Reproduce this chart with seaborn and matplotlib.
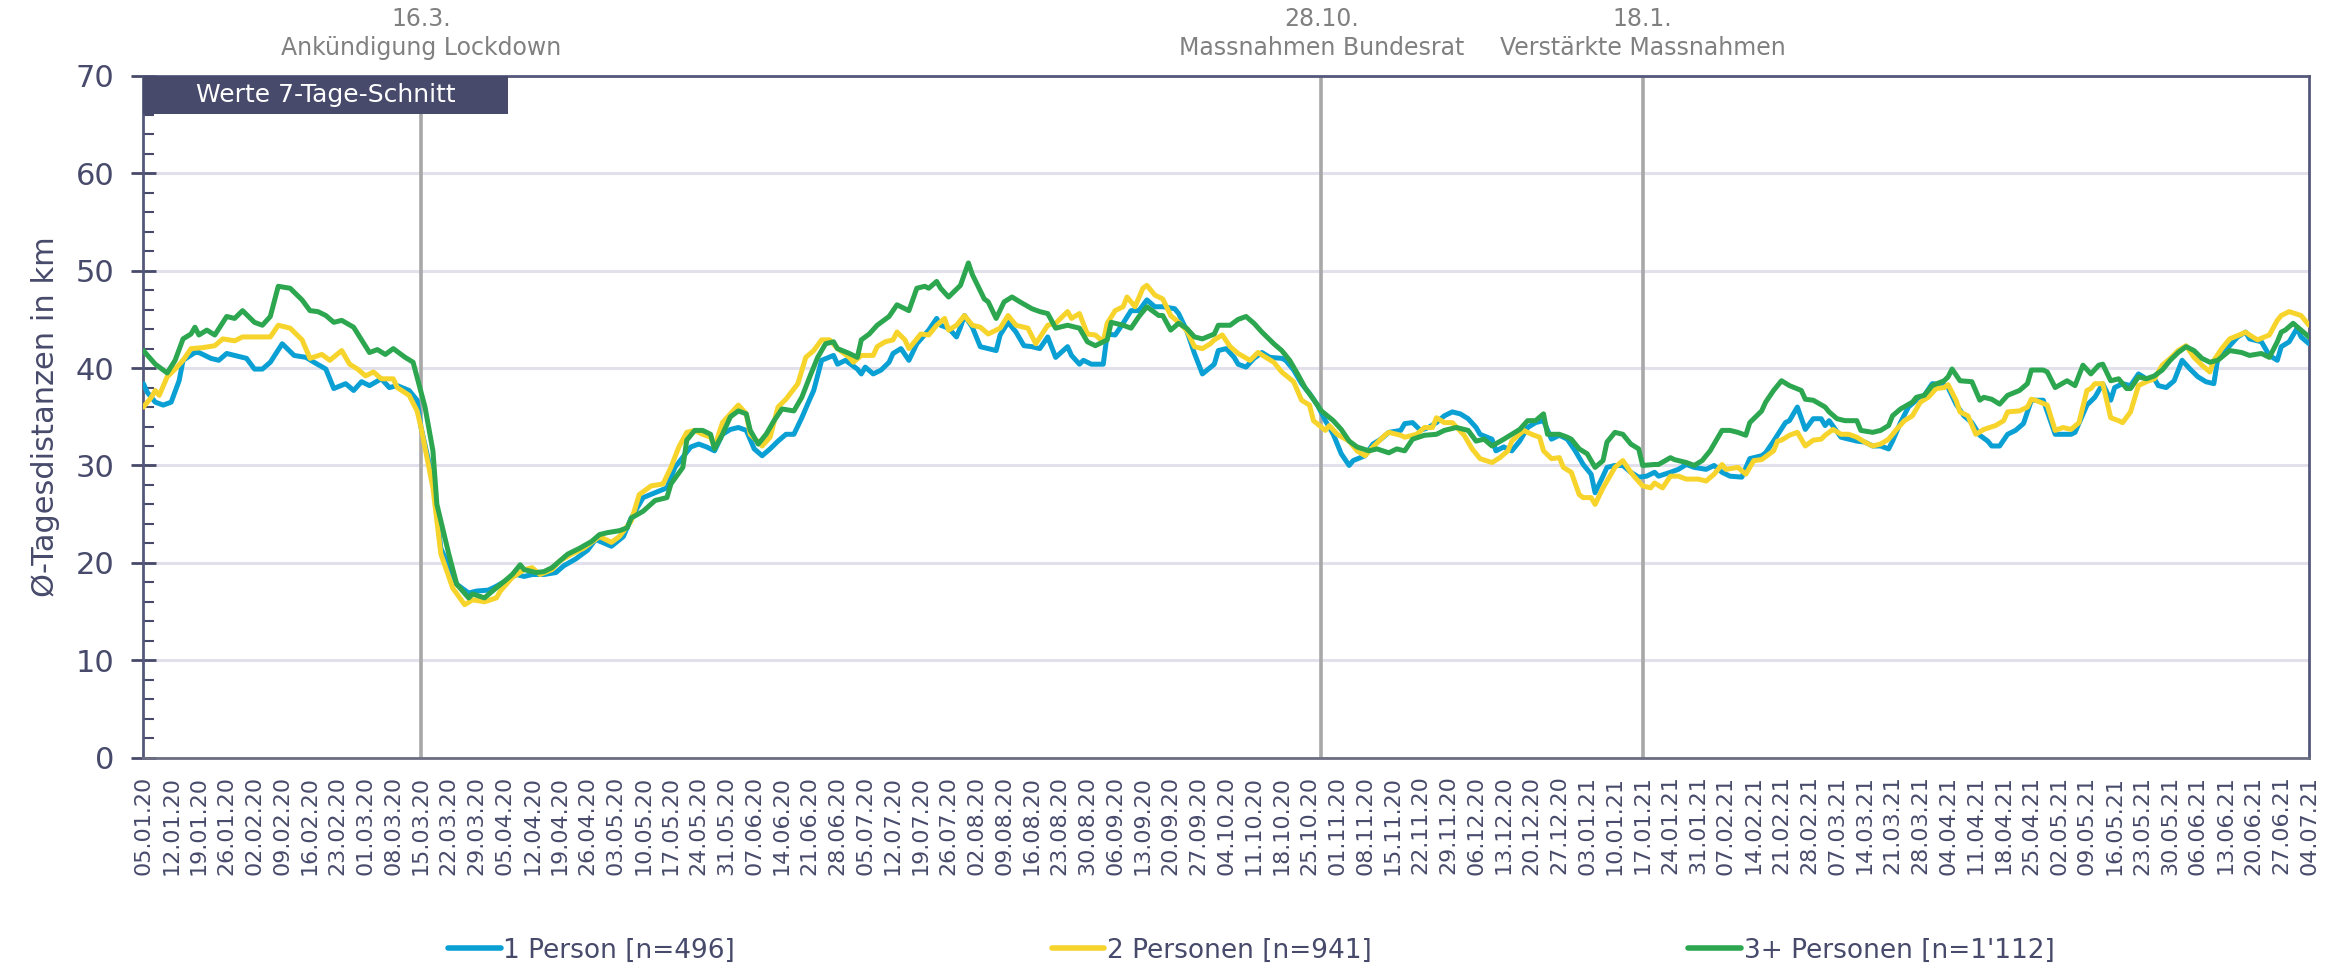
import numpy as np
import pandas as pd
import matplotlib
matplotlib.use("Agg")
import matplotlib.pyplot as plt
import matplotlib.dates as mdates
import matplotlib.transforms as mtransforms
from matplotlib.patches import Rectangle
from matplotlib.ticker import MultipleLocator
import seaborn as sns

# ---------------- data ----------------
start_date = "2020-01-05"
end_date = "2021-07-04"

# day offsets from start_date and 7-day average values (km)
p1_days = [0, 1, 3, 5, 7, 9, 10, 13, 14, 17, 19, 21, 23, 26, 28, 30, 32, 35, 38, 41, 43, 46, 48, 51, 53, 55, 57, 60, 62, 64,
           67, 69, 70, 73, 75, 79, 82, 84, 87, 89, 92, 94, 96, 98, 101, 104, 106, 109, 112, 114, 118, 121, 123, 126, 129, 132,
           134, 138, 140, 142, 144, 146, 148, 150, 152, 154, 156, 158, 160, 162, 164, 166, 168, 169, 171, 174, 175, 177, 180,
           181, 182, 184, 186, 188, 189, 191, 193, 195, 198, 200, 201, 203, 205, 206, 207, 209, 211, 213, 215, 216, 218, 220,
           222, 224, 226, 228, 230, 233, 234, 236, 237, 239, 242, 243, 245, 247, 249, 251, 253, 255, 257, 260, 261, 263, 265,
           267, 270, 271, 273, 275, 276, 278, 280, 282, 284, 287, 288, 290, 292, 294, 296, 298, 300, 302, 304, 305, 308, 310,
           312, 314, 317, 318, 320, 322, 324, 326, 328, 330, 332, 334, 336, 337, 340, 341, 343, 345, 347, 349, 351, 353, 355,
           357, 359, 361, 363, 365, 366, 368, 369, 371, 373, 375, 377, 379, 381, 382, 385, 387, 389, 391, 394, 396, 398, 400,
           403, 405, 408, 409, 411, 414, 415, 417, 419, 421, 423, 424, 425, 428, 430, 432, 434, 436, 438, 440, 441, 443, 445,
           447, 449, 451, 454, 455, 457, 459, 461, 463, 465, 466, 468, 470, 472, 474, 476, 478, 479, 482, 484, 486, 487, 490,
           492, 494, 496, 497, 499, 501, 503, 505, 507, 508, 510, 512, 514, 516, 518, 520, 522, 523, 526, 528, 530, 531, 534,
           536, 538, 539, 541, 543, 544, 546]
p1_vals = [38.4, 37.5, 36.5, 36.2, 36.5, 38.7, 40.8, 41.6, 41.6, 41.0, 40.8, 41.5, 41.3, 41.0, 39.9, 39.9, 40.6, 42.5, 41.3,
           41.1, 40.6, 39.9, 37.9, 38.4, 37.7, 38.6, 38.2, 38.9, 38.0, 38.2, 37.7, 36.7, 33.9, 28.5, 21.5, 17.8, 16.9, 17.1,
           17.2, 17.6, 18.3, 18.8, 18.6, 18.8, 18.8, 19.0, 19.7, 20.4, 21.3, 22.4, 21.7, 22.7, 24.6, 26.7, 27.2, 27.7, 29.8,
           31.9, 32.2, 31.9, 31.5, 33.2, 33.7, 33.9, 33.6, 31.7, 31.0, 31.7, 32.5, 33.2, 33.2, 34.9, 36.8, 37.7, 40.8, 41.3,
           40.4, 40.8, 39.9, 39.4, 40.1, 39.4, 39.8, 40.6, 41.5, 42.0, 40.8, 42.5, 43.9, 45.1, 44.4, 44.1, 43.2, 44.2, 45.4,
           44.2, 42.2, 42.0, 41.8, 43.4, 44.7, 43.7, 42.3, 42.2, 42.0, 43.2, 41.1, 42.2, 41.3, 40.4, 40.8, 40.4, 40.4, 43.5,
           43.4, 44.6, 45.9, 45.9, 47.0, 46.3, 46.3, 46.1, 45.6, 43.9, 41.5, 39.4, 40.4, 41.8, 42.0, 41.1, 40.4, 40.1, 41.0,
           41.6, 41.1, 41.0, 40.8, 39.8, 38.4, 37.4, 36.2, 34.6, 33.2, 31.2, 30.0, 30.5, 31.0, 32.2, 32.7, 33.4, 33.6, 34.3,
           34.4, 33.6, 33.9, 34.4, 35.1, 35.5, 35.3, 34.8, 33.9, 33.2, 32.7, 31.5, 31.9, 31.5, 32.5, 33.9, 34.4, 34.6, 32.7,
           33.1, 32.7, 31.5, 30.1, 29.1, 27.2, 28.9, 29.8, 30.0, 30.0, 29.3, 28.8, 28.9, 29.3, 28.9, 29.3, 29.6, 30.1, 29.8,
           29.6, 30.0, 29.3, 28.9, 28.8, 30.7, 31.0, 31.3, 32.5, 34.4, 34.6, 36.0, 33.7, 34.8, 34.8, 34.1, 34.6, 32.9, 32.7,
           32.5, 32.4, 32.0, 32.0, 31.7, 32.5, 34.4, 36.0, 36.7, 37.2, 38.4, 38.3, 38.0, 36.3, 35.1, 34.4, 33.1, 32.5, 32.0,
           32.0, 33.2, 33.6, 34.3, 36.7, 36.7, 36.7, 33.2, 33.2, 33.2, 33.4, 36.2, 37.0, 38.4, 36.7, 38.0, 38.4, 38.2, 39.4,
           38.9, 38.9, 38.2, 38.0, 38.7, 40.8, 39.9, 39.1, 38.6, 38.4, 41.0, 42.3, 43.2, 43.7, 43.0, 42.7, 41.3, 40.8, 42.2,
           42.7, 44.1, 43.2, 42.5]

p2_days = [0, 2, 3, 4, 6, 8, 10, 12, 15, 18, 20, 23, 25, 28, 32, 34, 37, 40, 42, 45, 47, 50, 52, 54, 56, 58, 60, 63, 64, 67,
           69, 70, 73, 75, 78, 81, 83, 86, 89, 90, 93, 96, 98, 100, 103, 105, 108, 111, 114, 115, 118, 120, 123, 125, 128,
           131, 133, 135, 137, 139, 141, 143, 144, 146, 148, 150, 152, 153, 156, 158, 160, 162, 165, 167, 169, 171, 173, 175,
           178, 179, 181, 184, 185, 187, 189, 190, 192, 193, 196, 198, 200, 202, 203, 205, 207, 209, 211, 213, 216, 218, 220,
           223, 225, 228, 230, 233, 234, 236, 238, 240, 242, 243, 245, 247, 248, 250, 252, 253, 255, 257, 259, 261, 263, 265,
           267, 269, 270, 272, 274, 276, 279, 281, 283, 285, 287, 290, 292, 294, 295, 298, 299, 301, 304, 306, 308, 310, 313,
           314, 317, 318, 321, 323, 325, 326, 328, 330, 333, 335, 337, 340, 342, 344, 345, 348, 350, 352, 353, 355, 357, 358,
           360, 362, 363, 365, 366, 368, 370, 371, 373, 375, 376, 378, 380, 381, 383, 385, 387, 389, 392, 394, 396, 398, 399,
           402, 404, 406, 408, 411, 412, 413, 415, 417, 419, 421, 423, 424, 426, 428, 430, 432, 434, 436, 438, 440, 442, 444,
           446, 448, 450, 452, 454, 455, 457, 458, 460, 462, 464, 467, 469, 470, 473, 475, 476, 477, 480, 482, 484, 486, 488,
           490, 491, 492, 494, 496, 498, 499, 501, 503, 505, 507, 509, 511, 513, 515, 517, 519, 521, 522, 524, 526, 529, 530,
           531, 533, 536, 538, 539, 541, 544, 546]
p2_vals = [36.0, 37.0, 37.7, 37.2, 39.1, 39.9, 40.8, 42.0, 42.1, 42.3, 43.0, 42.8, 43.2, 43.2, 43.2, 44.4, 44.1, 42.9, 41.0,
           41.4, 40.8, 41.8, 40.4, 39.9, 39.2, 39.6, 38.9, 38.9, 38.0, 37.2, 35.6, 33.9, 27.7, 20.9, 17.4, 15.7, 16.2, 16.0,
           16.4, 17.1, 18.5, 19.3, 19.5, 18.8, 19.3, 20.2, 20.9, 21.5, 22.4, 22.7, 22.1, 22.7, 24.3, 27.0, 27.9, 28.1, 29.8,
           31.9, 33.4, 33.6, 33.2, 32.9, 31.9, 34.4, 35.3, 36.2, 35.3, 33.2, 32.0, 32.9, 36.0, 36.8, 38.4, 41.1, 41.8, 42.9,
           42.9, 42.0, 41.1, 40.6, 41.3, 41.3, 42.2, 42.7, 42.9, 43.7, 42.9, 42.0, 43.5, 43.4, 44.4, 45.1, 43.9, 44.4, 45.4,
           44.4, 44.2, 43.5, 44.1, 45.4, 44.4, 44.1, 42.5, 44.4, 44.6, 45.8, 45.1, 45.6, 43.5, 43.4, 42.7, 44.6, 45.9, 46.3,
           47.3, 46.3, 48.2, 48.5, 47.5, 47.1, 45.4, 44.7, 43.9, 42.2, 42.0, 42.5, 42.9, 43.4, 42.2, 41.5, 40.8, 41.6, 41.1,
           40.6, 39.6, 38.6, 36.7, 36.2, 34.6, 33.6, 34.1, 33.2, 32.5, 31.5, 31.0, 31.9, 33.1, 33.4, 33.1, 32.9, 33.2, 33.9,
           33.9, 34.9, 34.4, 34.4, 33.1, 31.7, 30.7, 30.3, 30.8, 31.5, 32.5, 33.6, 33.2, 32.9, 31.5, 30.7, 30.8, 29.8, 29.3,
           27.0, 26.7, 26.7, 26.0, 27.7, 29.1, 29.8, 30.5, 29.3, 28.8, 27.9, 27.7, 28.2, 27.7, 28.9, 28.9, 28.6, 28.6, 28.4,
           29.1, 30.1, 29.6, 29.8, 29.1, 30.5, 30.6, 31.5, 32.5, 32.6, 33.1, 33.4, 32.0, 32.6, 32.7, 33.1, 33.7, 33.2, 33.2,
           32.9, 32.4, 32.0, 32.2, 32.7, 33.7, 34.6, 35.1, 36.5, 37.0, 37.9, 38.0, 38.3, 36.7, 35.5, 35.1, 33.2, 33.7, 34.1,
           34.6, 35.5, 35.6, 36.0, 36.8, 36.7, 36.2, 33.6, 33.9, 33.7, 34.4, 37.7, 37.9, 38.4, 38.4, 34.9, 34.6, 34.4, 35.5,
           38.2, 38.6, 38.9, 40.3, 41.0, 41.8, 42.3, 41.1, 40.3, 39.6, 40.8, 42.0, 43.0, 43.5, 43.7, 43.4, 42.9, 43.4, 44.9,
           45.4, 45.8, 45.4, 44.4]

p3_days = [0, 3, 5, 6, 8, 10, 12, 13, 14, 16, 18, 21, 23, 25, 28, 30, 32, 34, 37, 40, 42, 44, 46, 48, 50, 53, 55, 57, 59, 61,
           63, 66, 68, 71, 73, 74, 77, 79, 82, 83, 86, 88, 91, 93, 95, 96, 99, 101, 103, 105, 107, 110, 113, 115, 117, 120,
           122, 123, 126, 129, 132, 133, 136, 137, 139, 141, 143, 144, 146, 148, 150, 152, 153, 155, 157, 159, 161, 164, 166,
           168, 170, 172, 174, 175, 178, 180, 181, 183, 185, 188, 190, 193, 195, 197, 198, 200, 201, 203, 206, 208, 209, 212,
           213, 215, 217, 219, 221, 224, 226, 228, 230, 233, 236, 238, 240, 243, 244, 247, 249, 251, 253, 256, 257, 259, 261,
           263, 265, 267, 270, 271, 274, 276, 278, 280, 282, 285, 287, 289, 291, 293, 295, 297, 300, 302, 304, 306, 309, 311,
           314, 316, 318, 320, 323, 326, 328, 331, 334, 336, 338, 340, 343, 345, 347, 349, 351, 353, 354, 357, 359, 360, 362,
           364, 366, 368, 369, 371, 373, 375, 377, 378, 381, 382, 385, 386, 389, 391, 393, 395, 398, 400, 402, 404, 405, 408,
           409, 411, 413, 415, 418, 419, 421, 424, 425, 427, 429, 432, 433, 436, 438, 440, 441, 443, 446, 447, 449, 451, 454,
           455, 456, 458, 461, 463, 464, 466, 468, 470, 473, 475, 476, 479, 480, 482, 485, 487, 489, 491, 493, 494, 496, 498,
           500, 501, 503, 505, 507, 509, 511, 513, 515, 517, 519, 521, 523, 526, 529, 531, 534, 536, 538, 539, 540, 542, 544,
           546]
p3_vals = [41.8, 40.4, 39.8, 39.5, 40.8, 43.0, 43.5, 44.2, 43.4, 43.9, 43.4, 45.3, 45.1, 45.9, 44.7, 44.4, 45.3, 48.4, 48.2,
           47.0, 45.9, 45.8, 45.4, 44.7, 44.9, 44.2, 42.9, 41.6, 41.9, 41.4, 42.0, 41.1, 40.6, 36.0, 31.5, 26.0, 20.9, 17.8,
           16.4, 16.8, 16.4, 17.1, 18.1, 18.8, 19.8, 19.3, 19.0, 19.1, 19.5, 20.2, 20.9, 21.5, 22.2, 22.9, 23.1, 23.3, 23.6,
           24.6, 25.3, 26.4, 26.7, 28.1, 29.8, 32.6, 33.6, 33.6, 33.2, 31.7, 33.2, 35.0, 35.6, 35.3, 33.6, 32.2, 33.2, 34.6,
           35.8, 35.6, 37.0, 39.1, 41.1, 42.5, 42.7, 42.0, 41.5, 41.1, 42.9, 43.5, 44.4, 45.3, 46.5, 45.9, 48.2, 48.4, 48.2,
           48.9, 48.2, 47.3, 48.5, 50.8, 49.6, 47.1, 46.8, 45.1, 46.8, 47.3, 46.8, 46.1, 45.8, 45.6, 44.1, 44.4, 44.1, 42.7,
           42.3, 42.9, 44.7, 44.4, 44.1, 45.3, 46.3, 45.4, 45.4, 43.9, 44.6, 44.1, 43.2, 43.0, 43.5, 44.4, 44.4, 45.0, 45.3,
           44.6, 43.7, 42.5, 41.8, 40.8, 39.4, 37.9, 36.8, 35.6, 34.6, 33.7, 32.5, 31.9, 31.5, 31.7, 31.3, 31.7, 31.5, 32.7,
           33.1, 33.2, 33.6, 33.9, 33.6, 32.5, 32.7, 32.0, 32.7, 33.2, 33.7, 34.6, 34.6, 35.3, 33.2, 33.2, 32.9, 32.7, 31.7,
           31.2, 29.8, 30.5, 32.4, 33.4, 33.2, 32.2, 31.7, 30.0, 30.1, 30.1, 30.8, 30.6, 30.3, 30.0, 30.5, 31.5, 33.6, 33.6,
           33.4, 33.1, 34.4, 35.6, 36.5, 37.7, 38.7, 38.2, 37.7, 36.8, 36.7, 36.0, 35.5, 34.8, 34.6, 34.6, 33.6, 33.4, 33.6,
           34.1, 35.1, 35.8, 36.5, 37.0, 37.2, 38.2, 38.7, 39.1, 39.9, 38.7, 38.6, 36.7, 37.0, 36.8, 36.3, 37.2, 37.7, 38.4,
           39.8, 39.8, 39.6, 38.0, 38.7, 38.2, 40.3, 39.4, 40.3, 40.4, 38.7, 38.9, 37.9, 37.9, 39.1, 38.9, 39.2, 39.8, 40.8,
           41.6, 42.2, 41.8, 41.0, 40.6, 40.8, 41.8, 41.6, 41.3, 41.5, 41.1, 42.7, 43.7, 43.9, 44.6, 43.9, 43.2]

series_names = ["1 Person [n=496]", "2 Personen [n=941]", "3+ Personen [n=1'112]"]
series_colors = ["#0aa0d4", "#f7d42c", "#2ca64f"]

event_line_dates = ["2020-03-15", "2020-10-28", "2021-01-17"]
event_dates_text = ["16.3.", "28.10.", "18.1."]
event_texts = ["Ankündigung Lockdown", "Massnahmen Bundesrat", "Verstärkte Massnahmen"]

y_label = "Ø-Tagesdistanzen in km"
box_label = "Werte 7-Tage-Schnitt"

# ---------------- build frame ----------------
t0 = pd.Timestamp(start_date)
frames = []
for name, d, v in zip(series_names, [p1_days, p2_days, p3_days], [p1_vals, p2_vals, p3_vals]):
    frames.append(pd.DataFrame({"date": t0 + pd.to_timedelta(d, unit="D"), "value": v, "series": name}))
df = pd.concat(frames, ignore_index=True)

# ---------------- style ----------------
sns.set_theme(style="white")
plt.rcParams["font.family"] = ["DejaVu Sans"]

NAVY = "#474a6a"
GRAY_TXT = "#808080"

fig = plt.figure(figsize=(23.43, 9.68), dpi=100)
ax = fig.add_axes([0.0612, 0.2174, 0.9243, 0.7041])

sns.lineplot(data=df, x="date", y="value", hue="series", hue_order=series_names,
             palette=dict(zip(series_names, series_colors)), linewidth=3.6,
             estimator=None, sort=False, ax=ax, zorder=3)

ax.set_xlim(pd.Timestamp(start_date), pd.Timestamp(end_date))
ax.set_ylim(0, 70)
ax.yaxis.set_major_locator(MultipleLocator(10))
ax.yaxis.set_minor_locator(MultipleLocator(2))
ax.grid(axis="y", which="major", color="#e2e1eb", linewidth=2.2)
ax.grid(axis="x", visible=False)
ax.set_axisbelow(True)

ax.xaxis.set_major_locator(mdates.WeekdayLocator(byweekday=mdates.SU))
ax.xaxis.set_major_formatter(mdates.DateFormatter("%d.%m.%y"))
ax.tick_params(axis="x", which="major", direction="out", length=8, width=1.5, color="#7a7c90",
               labelsize=16, labelcolor=NAVY, labelrotation=90, pad=5)
ax.tick_params(axis="y", which="major", direction="inout", length=18, width=2, color=NAVY,
               labelsize=22, labelcolor=NAVY, pad=12, left=True)
ax.tick_params(axis="y", which="minor", direction="in", length=8, width=1.5, color=NAVY, left=True)

for s in ax.spines.values():
    s.set_visible(True)
    s.set_color("#55587a")
    s.set_linewidth(2)
ax.spines["bottom"].set_color("#6c6e82")

ax.set_xlabel("")
ax.set_ylabel("")
fig.text(0.0195, 0.5695, y_label, rotation=90, ha="center", va="center", fontsize=22, color=NAVY)

# event lines and labels
trans = mtransforms.blended_transform_factory(ax.transData, fig.transFigure)
for d, dt, tx in zip(event_line_dates, event_dates_text, event_texts):
    x = pd.Timestamp(d)
    ax.axvline(x, color="#a8a8a8", linewidth=2.6, zorder=2)
    ax.text(x, 0.980, dt, transform=trans, ha="center", va="center", fontsize=17, color=GRAY_TXT)
    ax.text(x, 0.950, tx, transform=trans, ha="center", va="center", fontsize=17, color=GRAY_TXT)

# label box
ax.add_patch(Rectangle((0, 0.944), 0.1685, 0.056, transform=ax.transAxes, facecolor=NAVY,
                       edgecolor="none", zorder=6, clip_on=False))
ax.text(0.0843, 0.972, box_label, transform=ax.transAxes, ha="center", va="center",
        fontsize=18, color="white", zorder=7)

# legend
handles, labels = ax.get_legend_handles_labels()
if ax.get_legend() is not None:
    ax.get_legend().remove()
leg = fig.legend(handles, labels, loc="center", bbox_to_anchor=(0.534, 0.018), ncol=3, frameon=False,
                 fontsize=19, handlelength=2.0, handletextpad=0.1, columnspacing=12.0, labelcolor=NAVY)
for h in leg.get_lines():
    h.set_linewidth(4)

fig.savefig("out.png", dpi=100)
